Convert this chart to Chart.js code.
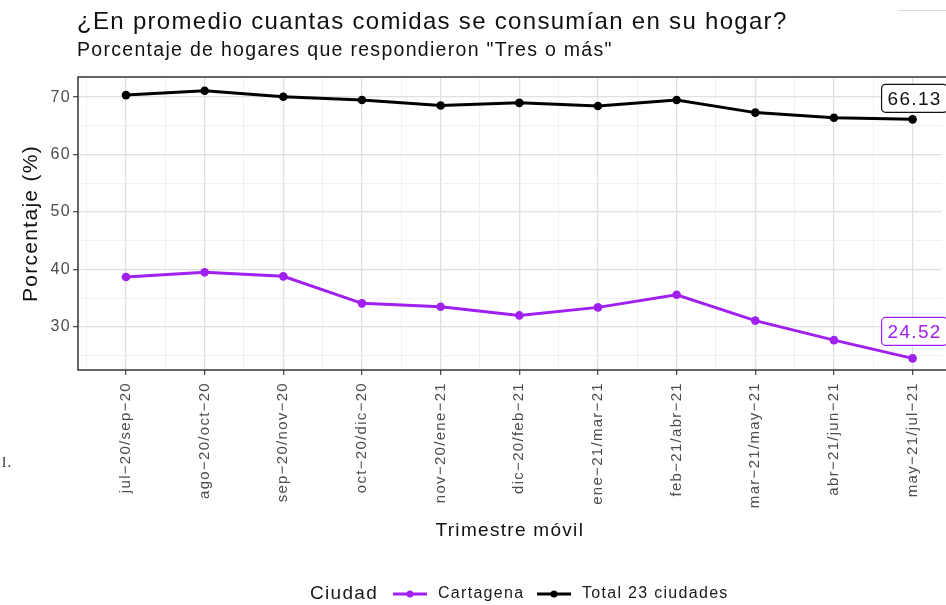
<!DOCTYPE html>
<html lang="es">
<head>
  <meta charset="UTF-8" />
  <title>Comidas en el hogar</title>
  <script src="https://cdn.jsdelivr.net/npm/chart.js"></script>
  <style>
    html, body { margin: 0; padding: 0; background: #fff; }
    #wrap { width: 946px; height: 605px; position: relative; }
  </style>
</head>
<body>
  <div id="wrap"><canvas id="chart" width="946" height="605"></canvas></div>

  <script>
    const periodos = [
      "jul−20/sep−20", "ago−20/oct−20", "sep−20/nov−20", "oct−20/dic−20",
      "nov−20/ene−21", "dic−20/feb−21", "ene−21/mar−21", "feb−21/abr−21",
      "mar−21/may−21", "abr−21/jun−21", "may−21/jul−21"
    ];
    const cartagena = [38.7, 39.5, 38.8, 34.1, 33.5, 32.0, 33.4, 35.6, 31.1, 27.7, 24.52];
    const total23 = [70.35, 71.1, 70.05, 69.5, 68.55, 69.0, 68.45, 69.5, 67.3, 66.4, 66.13];
    const yTicks = [30, 40, 50, 60, 70];
    const yMinor = [25, 35, 45, 55, 65];

    const FONT = "'Liberation Sans', Arial, sans-serif";
    const PURPLE = "#a020f0";
    const SPACING = "1.3px";

    // the source plot uses a wider-set font, widen ours a bit
    const spacing = {
      id: "spacing",
      beforeUpdate(chart) { chart.ctx.letterSpacing = SPACING; },
      beforeLayout(chart) { chart.ctx.letterSpacing = SPACING; },
      beforeDraw(chart) { chart.ctx.letterSpacing = SPACING; }
    };

    // titles, legend, panel border and end labels
    const extras = {
      id: "extras",
      afterDraw(chart) {
        const ctx = chart.ctx;
        const a = chart.chartArea;
        ctx.save();
        ctx.letterSpacing = SPACING;

        // panel border
        ctx.strokeStyle = "#333";
        ctx.lineWidth = 1.5;
        ctx.beginPath();
        ctx.moveTo(946, a.top);
        ctx.lineTo(a.left, a.top);
        ctx.lineTo(a.left, a.bottom);
        ctx.lineTo(946, a.bottom);
        ctx.stroke();

        // titles
        ctx.fillStyle = "#111";
        ctx.textBaseline = "alphabetic";
        ctx.textAlign = "left";
        ctx.font = "24px " + FONT;
        ctx.fillText("¿En promedio cuantas comidas se consumían en su hogar?", 77, 29);
        ctx.font = "19.5px " + FONT;
        ctx.fillText("Porcentaje de hogares que respondieron \"Tres o más\"", 77, 56);

        // small grey rule top right
        ctx.strokeStyle = "#ddd";
        ctx.lineWidth = 1;
        ctx.beginPath();
        ctx.moveTo(898, 10.5);
        ctx.lineTo(946, 10.5);
        ctx.stroke();

        // stray text at left margin
        ctx.textBaseline = "middle";
        ctx.fillStyle = "#222";
        ctx.font = "15px 'Liberation Serif', serif";
        ctx.fillText("l.", 2, 463);

        // end labels
        const xs = chart.scales.x, ys = chart.scales.y;
        const last = periodos.length - 1;
        const drawLabel = (val, color, dy) => {
          const txt = val.toFixed(2);
          ctx.font = "19px " + FONT;
          const tw = ctx.measureText(txt).width;
          const w = tw + 12;
          const h = 28;
          const cx = xs.getPixelForValue(last) + 2;
          const cy = ys.getPixelForValue(val) + dy;
          ctx.fillStyle = "#fff";
          ctx.strokeStyle = color;
          ctx.lineWidth = 1.2;
          ctx.beginPath();
          ctx.roundRect(cx - w / 2, cy - h / 2, w, h, 4);
          ctx.fill();
          ctx.stroke();
          ctx.fillStyle = color;
          ctx.textAlign = "left";
          ctx.fillText(txt, cx - w / 2 + 6, cy + 1);
        };
        drawLabel(total23[last], "#111", -21);
        drawLabel(cartagena[last], PURPLE, -27);

        // legend
        const ly = 594;
        ctx.textAlign = "left";
        ctx.fillStyle = "#1a1a1a";
        ctx.font = "19px " + FONT;
        ctx.fillText("Ciudad", 310, ly);
        const key = (x, color, label) => {
          ctx.strokeStyle = color;
          ctx.lineWidth = 3;
          ctx.beginPath();
          ctx.moveTo(x, ly);
          ctx.lineTo(x + 34, ly);
          ctx.stroke();
          ctx.fillStyle = color;
          ctx.beginPath();
          ctx.arc(x + 17, ly, 3.5, 0, Math.PI * 2);
          ctx.fill();
          ctx.fillStyle = "#1a1a1a";
          ctx.font = "16px " + FONT;
          ctx.fillText(label, x + 45, ly);
        };
        key(393, PURPLE, "Cartagena");
        key(537, "#000", "Total 23 ciudades");

        ctx.restore();
      }
    };

    const toPoints = arr => arr.map((v, i) => ({ x: i, y: v }));

    const ctx = document.getElementById("chart").getContext("2d");
    const chart = new Chart(ctx, {
      type: "line",
      data: {
        datasets: [
          {
            label: "Cartagena",
            data: toPoints(cartagena),
            borderColor: PURPLE,
            backgroundColor: PURPLE,
            borderWidth: 3,
            pointRadius: 4.3,
            pointBorderWidth: 0,
            tension: 0
          },
          {
            label: "Total 23 ciudades",
            data: toPoints(total23),
            borderColor: "#000",
            backgroundColor: "#000",
            borderWidth: 3,
            pointRadius: 4.3,
            pointBorderWidth: 0,
            tension: 0
          }
        ]
      },
      options: {
        responsive: false,
        animation: false,
        layout: { padding: { top: 77, bottom: 61, left: 0, right: 0 } },
        plugins: {
          legend: { display: false },
          title: { display: false },
          tooltip: { enabled: false }
        },
        scales: {
          x: {
            type: "linear",
            min: -0.61,
            max: 10.37,
            afterBuildTicks: scale => {
              const t = [];
              for (let v = -0.5; v <= 10; v += 0.5) t.push({ value: v });
              scale.ticks = t;
            },
            afterFit: scale => {
              scale.height = 174;
              scale.paddingLeft = 0;
              scale.paddingRight = 0;
            },
            border: { display: false },
            grid: {
              color: c => Number.isInteger(c.tick.value) ? "#e0e0e0" : "#eeeeee",
              lineWidth: c => Number.isInteger(c.tick.value) ? 1.3 : 0.8,
              tickColor: c => Number.isInteger(c.tick.value) ? "#555" : "rgba(0,0,0,0)",
              tickLength: 5
            },
            ticks: {
              autoSkip: false,
              minRotation: 90,
              maxRotation: 90,
              padding: 7,
              color: "#4d4d4d",
              font: { family: FONT, size: 15 },
              callback: v => Number.isInteger(v) ? periodos[v] : ""
            },
            title: {
              display: true,
              text: "Trimestre móvil",
              color: "#111",
              font: { family: FONT, size: 19 },
              padding: { top: 4, bottom: 2 }
            }
          },
          y: {
            min: 22.5,
            max: 73.5,
            afterBuildTicks: scale => {
              scale.ticks = yMinor.concat(yTicks).sort((a, b) => a - b).map(v => ({ value: v }));
            },
            afterFit: scale => { scale.width = 78; },
            border: { display: false },
            grid: {
              color: c => yTicks.includes(c.tick.value) ? "#e0e0e0" : "#eeeeee",
              lineWidth: c => yTicks.includes(c.tick.value) ? 1.3 : 0.8,
              tickColor: c => yTicks.includes(c.tick.value) ? "#555" : "rgba(0,0,0,0)",
              tickLength: 5
            },
            ticks: {
              autoSkip: false,
              padding: 2,
              color: "#4d4d4d",
              font: { family: FONT, size: 16 },
              callback: v => yTicks.includes(v) ? String(v) : ""
            },
            title: {
              display: true,
              text: "Porcentaje (%)",
              color: "#111",
              font: { family: FONT, size: 21 },
              padding: { top: 19, bottom: 0 }
            }
          }
        }
      },
      plugins: [spacing, extras]
    });
  </script>
</body>
</html>
